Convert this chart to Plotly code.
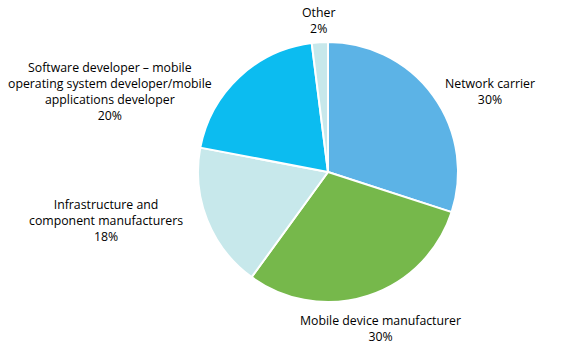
import plotly.graph_objects as go

labels = ["Network carrier", "Mobile device manufacturer", "Infrastructure and component manufacturers",
          "Software developer – mobile operating system developer/mobile applications developer", "Other"]
display_labels = ["Network carrier", "Mobile device manufacturer", "Infrastructure and<br>component manufacturers",
                  "Software developer – mobile<br>operating system developer/mobile<br>applications developer", "Other"]
values = [30, 30, 18, 20, 2]
colors = ["#5CB3E6", "#76B84B", "#C7E8EB", "#0CBCF0", "#C7E8EB"]

W, H = 569, 355
cx, cy, r = 328, 172, 130
# label anchor pixel positions (centers)
label_pos = [(490, 91), (380, 328), (106, 221), (110, 91), (318, 20)]

fig = go.Figure(go.Pie(
    labels=labels, values=values, sort=False, direction="clockwise", rotation=0,
    marker=dict(colors=colors, line=dict(color="white", width=2)),
    textinfo="none", hoverinfo="label+percent", showlegend=False,
    domain=dict(x=[(cx - r) / W, (cx + r) / W], y=[1 - (cy + r) / H, 1 - (cy - r) / H]),
))

for lab, v, (px, py) in zip(display_labels, values, label_pos):
    fig.add_annotation(x=px / W, y=1 - py / H, xref="paper", yref="paper",
                       text=f"{lab}<br>{v}%", showarrow=False, align="center",
                       xanchor="center", yanchor="middle",
                       font=dict(family="Open Sans", size=12.3, color="#000000"))

fig.update_layout(width=W, height=H, margin=dict(l=0, r=0, t=0, b=0),
                  paper_bgcolor="white", plot_bgcolor="white")
fig.write_html("out.html", config={"displayModeBar": False},
               post_script="document.body.style.margin='0';document.body.style.overflow='hidden';")
